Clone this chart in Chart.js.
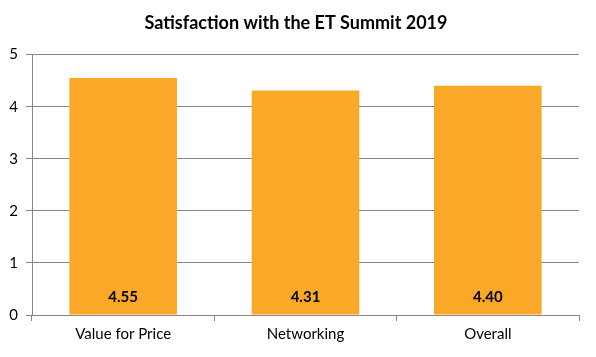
<!DOCTYPE html>
<html><head><meta charset="utf-8">
<script src="https://cdn.jsdelivr.net/npm/chart.js@4/dist/chart.umd.min.js"></script>
<style>html,body{margin:0;padding:0;background:#fff}#wrap{width:596px;height:357px}</style>
</head><body><div id="wrap"><canvas id="c" width="596" height="357"></canvas></div>
<script>
const categories = ["Value for Price", "Networking", "Overall"];
const scores = [4.55, 4.31, 4.40];
const yTicks = [0, 1, 2, 3, 4, 5];
const titleText = "Satisfaction with the ET Summit 2019";

const FONT = "Lato, 'Open Sans', sans-serif";

const bottomLabels = {
  id: 'bottomLabels',
  afterLayout(chart) {
    const tb = chart.titleBlock;
    if (tb) { tb.left = 0; tb.right = 592; }
  },
  afterDatasetsDraw(chart) {
    const ctx = chart.ctx;
    const meta = chart.getDatasetMeta(0);
    const yScale = chart.scales.y;
    ctx.save();
    ctx.font = "bold 15px " + FONT;
    ctx.fillStyle = "#000";
    ctx.textAlign = "center";
    ctx.textBaseline = "middle";
    meta.data.forEach((bar, i) => {
      ctx.fillText(scores[i].toFixed(2), bar.x, yScale.getPixelForValue(0) - 18);
    });
    ctx.restore();
  }
};

new Chart(document.getElementById('c'), {
  type: 'bar',
  data: {
    labels: categories,
    datasets: [{
      data: scores,
      backgroundColor: '#F9A828',
      borderWidth: 0,
      categoryPercentage: 1.0,
      barPercentage: 0.59
    }]
  },
  options: {
    responsive: false,
    animation: false,
    devicePixelRatio: 1,
    layout: { padding: { left: 0, right: 17, top: 0, bottom: 10 } },
    plugins: {
      legend: { display: false },
      tooltip: { enabled: false },
      title: {
        display: true,
        text: titleText,
        color: '#000',
        font: { family: FONT, size: 18, weight: 'bold' },
        padding: { top: 12, bottom: 21 }
      }
    },
    scales: {
      x: {
        offset: true,
        grid: { display: true, offset: true, drawOnChartArea: false, drawTicks: true, tickLength: 6, color: '#868686', lineWidth: 1 },
        border: { display: true, color: '#868686', width: 1 },
        ticks: { color: '#000', font: { family: FONT, size: 15 }, padding: 4 }
      },
      y: {
        min: 0, max: 5,
        afterBuildTicks(scale) { scale.ticks = yTicks.map(v => ({ value: v })); },
        afterFit(scale) { scale.width = 32; },
        grid: { color: '#868686', lineWidth: 1, drawTicks: true, tickLength: 6 },
        border: { display: true, color: '#868686', width: 1 },
        ticks: { color: '#000', font: { family: FONT, size: 15 }, padding: 8, callback: v => String(v) }
      }
    }
  },
  plugins: [bottomLabels]
});
</script>
</body></html>
